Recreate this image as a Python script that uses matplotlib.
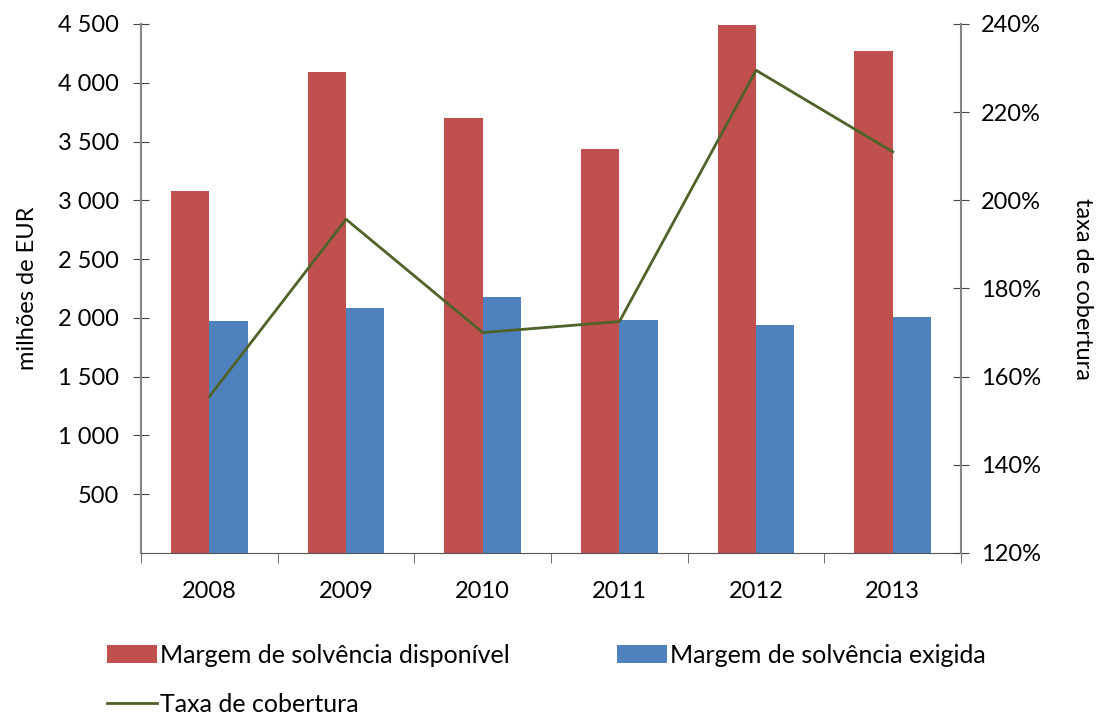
import numpy as np
import matplotlib
matplotlib.use("Agg")
import matplotlib.pyplot as plt
from matplotlib.ticker import FuncFormatter, PercentFormatter

# data
years = ["2008", "2009", "2010", "2011", "2012", "2013"]
disponivel = [3080, 4090, 3700, 3440, 4490, 4270]   # milhões de EUR
exigida = [1975, 2085, 2180, 1985, 1940, 2010]      # milhões de EUR
cobertura = [155.5, 195.7, 170.0, 172.5, 229.5, 211.0]  # %

plt.rcParams['font.family'] = ['Lato', 'DejaVu Sans']
plt.rcParams['font.size'] = 17

red = '#C0504D'
blue = '#4F81BD'
green = '#4F6228'
axcol = '#868686'

fig = plt.figure(figsize=(10.96, 7.14), dpi=100)
ax = fig.add_axes([0.1287, 0.2255, 0.7482, 0.7409])
x = np.arange(len(years))
w = 0.28
b1 = ax.bar(x - w / 2, disponivel, w, color=red, label='Margem de solvência disponível')
b2 = ax.bar(x + w / 2, exigida, w, color=blue, label='Margem de solvência exigida')
ax.set_xlim(-0.5, len(years) - 0.5)
ax.set_ylim(0, 4500)
ax.set_yticks(np.arange(500, 4501, 500))
ax.yaxis.set_major_formatter(FuncFormatter(lambda v, p: f"{int(v):,}".replace(",", " ")))
ax.set_xticks(x)
ax.set_xticklabels(years)
ax.set_xticks(np.arange(-0.5, len(years)), minor=True)
ax.tick_params(axis='x', which='major', length=0, pad=20)
ax.tick_params(axis='x', which='minor', length=7, direction='out', color='#555555')
ax.tick_params(axis='y', direction='inout', length=12, color='#444444', pad=10)
ax.set_ylabel('milhões de EUR', labelpad=14)
for s in ['top', 'right']:
    ax.spines[s].set_visible(False)
ax.spines['left'].set_color(axcol)
ax.spines['bottom'].set_color('#555555')
ax.spines['left'].set_linewidth(1.5)

ax2 = ax.twinx()
ln, = ax2.plot(x, cobertura, color=green, lw=2, label='Taxa de cobertura')
ax2.set_ylim(120, 240)
ax2.set_yticks(np.arange(120, 241, 20))
ax2.yaxis.set_major_formatter(PercentFormatter(decimals=0))
ax2.tick_params(axis='y', direction='inout', length=12, color='#444444', pad=8)
ax2.set_ylabel('taxa de cobertura', rotation=270, labelpad=38)
for s in ['top', 'left', 'bottom']:
    ax2.spines[s].set_visible(False)
ax2.spines['right'].set_color(axcol)
ax2.spines['right'].set_linewidth(1.5)

fig.legend(handles=[b1, ln, b2], loc='lower left', bbox_to_anchor=(0.077, -0.034),
           ncol=2, frameon=False, handlelength=2.0, handletextpad=0.12,
           columnspacing=4.3, labelspacing=1.05, fontsize=18)

fig.savefig('out.png', dpi=100)
